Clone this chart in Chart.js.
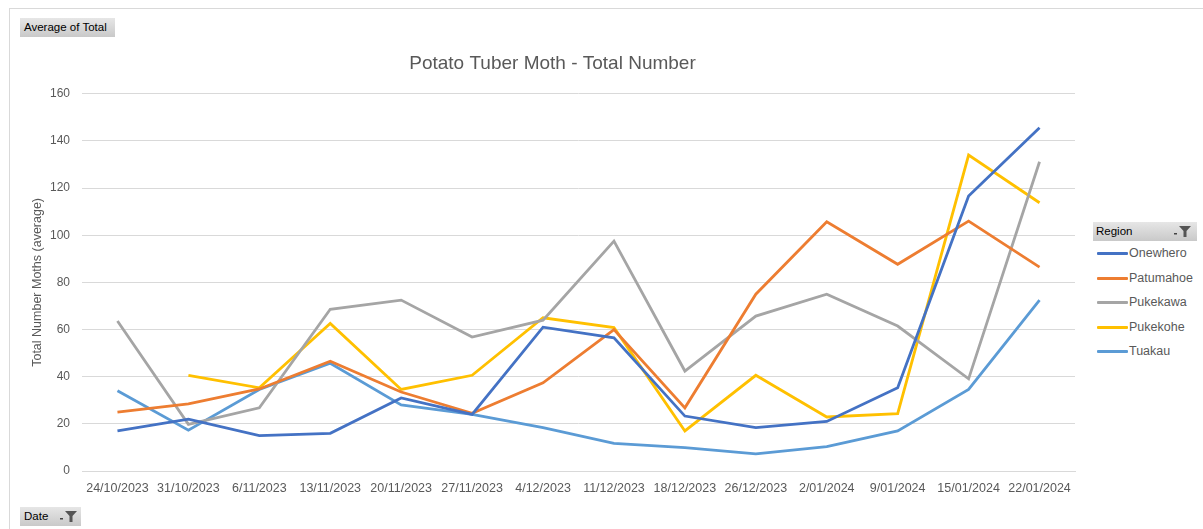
<!DOCTYPE html>
<html>
<head>
<meta charset="utf-8">
<script src="https://cdn.jsdelivr.net/npm/chart.js@4.4.1/dist/chart.umd.min.js"></script>
<style>
  html, body { margin: 0; padding: 0; background: #fff; overflow: hidden; }
  body { width: 1203px; height: 529px; position: relative; font-family: "Liberation Sans", Arial, sans-serif; }
  .frame { position: absolute; left: 9px; top: 8px; width: 1300px; height: 600px; border: 1px solid #d9d9d9; }
  .btn { position: absolute; height: 19px; line-height: 19px; font-size: 11.5px; color: #000; white-space: nowrap;
         background: linear-gradient(#e6e6e6, #c9c9c9); padding: 0 4px; box-sizing: border-box; }
  #chartWrap { position: absolute; left: 0; top: 0; width: 1090px; height: 529px; }
  #legend { position: absolute; left: 1093px; top: 222px; width: 104px; font-size: 12.5px; color: #595959; }
  #legend .head { height: 19px; line-height: 19px; font-size: 11.5px; color: #000; padding-left: 3px;
                  background: linear-gradient(#e6e6e6, #c9c9c9); position: relative; }
  #legend .item { height: 24.5px; line-height: 24.5px; white-space: nowrap; }
  #legend .sw { display: inline-block; width: 31px; height: 3px; vertical-align: middle; margin-left: 4px; margin-right: 1px; border-radius: 1px; }
</style>
</head>
<body>
<div class="frame"></div>
<div class="btn" style="left:20px; top:18px; width:95px;">Average of Total</div>
<div class="btn" style="left:20px; top:507px; width:61px;">Date
  <svg width="20" height="14" viewBox="0 0 20 14" style="position:absolute; right:2px; top:3px">
    <rect x="1" y="8" width="3" height="1.5" fill="#444"/>
    <path d="M6 1 H18 L13.5 6 V12 H10.5 V6 Z" fill="#555"/>
  </svg>
</div>
<div id="chartWrap"><canvas id="c"></canvas></div>
<div id="legend"></div>

<script>
const dates = ['24/10/2023', '31/10/2023', '6/11/2023', '13/11/2023', '20/11/2023', '27/11/2023', '4/12/2023',
               '11/12/2023', '18/12/2023', '26/12/2023', '2/01/2024', '9/01/2024', '15/01/2024', '22/01/2024'];

const onewhero  = [17, 22, 15, 16, 31, 24, 61, 56.5, 23.3, 18.4, 21, 35.3, 116.6, 145.6];
const patumahoe = [25, 28.5, 34.8, 46.6, 33.5, 24.5, 37.4, 60, 26.8, 75, 105.7, 87.7, 106, 86.5];
const pukekawa  = [63.6, 19.8, 26.8, 68.6, 72.5, 56.8, 64, 97.5, 42.4, 65.7, 75, 61.5, 39.1, 131.2];
const pukekohe  = [null, 40.6, 35.3, 62.6, 34.6, 40.6, 65, 60.8, 17, 40.6, 22.9, 24.3, 134, 113.8];
const tuakau    = [34, 17.3, 34.6, 45.7, 28, 24, 18.4, 11.7, 9.9, 7.3, 10.3, 17, 34.6, 72.5];

const regions = ['Onewhero', 'Patumahoe', 'Pukekawa', 'Pukekohe', 'Tuakau'];
const regionValues = [onewhero, patumahoe, pukekawa, pukekohe, tuakau];
const colors = ['#4472C4', '#ED7D31', '#A5A5A5', '#FFC000', '#5B9BD5'];

const yTicks = [0, 20, 40, 60, 80, 100, 120, 140, 160];

const datasets = regions.map((name, i) => ({
    label: name,
    data: regionValues[i],
    borderColor: colors[i],
    backgroundColor: colors[i],
    borderWidth: 2.8,
    pointRadius: 0,
    tension: 0,
    fill: false
}));

new Chart(document.getElementById('c'), {
    type: 'line',
    data: { labels: dates, datasets: datasets },
    options: {
        responsive: true,
        maintainAspectRatio: false,
        animation: false,
        layout: { padding: { left: 30, right: 15, top: 0, bottom: 31 } },
        plugins: {
            legend: { display: false },
            tooltip: { enabled: false },
            title: {
                display: true,
                text: 'Potato Tuber Moth - Total Number',
                color: '#595959',
                font: { family: 'Liberation Sans', size: 19, weight: 'normal' },
                padding: { top: 52, bottom: 19 }
            }
        },
        scales: {
            x: {
                offset: true,
                grid: { display: false },
                border: { color: '#d9d9d9' },
                ticks: { color: '#595959', font: { family: 'Liberation Sans', size: 12.5 }, maxRotation: 0, autoSkip: false, padding: 2 }
            },
            y: {
                min: 0,
                max: 160,
                afterBuildTicks: (axis) => { axis.ticks = yTicks.map(v => ({ value: v })); },
                afterFit: (axis) => { axis.width = 52; },
                grid: { color: '#d9d9d9', drawTicks: false },
                border: { display: false },
                ticks: { color: '#595959', font: { family: 'Liberation Sans', size: 12 }, padding: 12 },
                title: {
                    display: true,
                    text: 'Total Number Moths (average)',
                    color: '#595959',
                    font: { family: 'Liberation Sans', size: 12.5 },
                    padding: { top: 0, bottom: 0 }
                }
            }
        }
    }
});

// legend with pivot-style header
const legend = document.getElementById('legend');
let html = '<div class="head">Region' +
    '<svg width="20" height="14" viewBox="0 0 20 14" style="position:absolute; right:4px; top:3px">' +
    '<rect x="1" y="8" width="3" height="1.5" fill="#444"/>' +
    '<path d="M6 1 H18 L13.5 6 V12 H10.5 V6 Z" fill="#555"/></svg></div>';
regions.forEach((name, i) => {
    html += '<div class="item"><span class="sw" style="background:' + colors[i] + '"></span>' + name + '</div>';
});
legend.innerHTML = html;
</script>
</body>
</html>
